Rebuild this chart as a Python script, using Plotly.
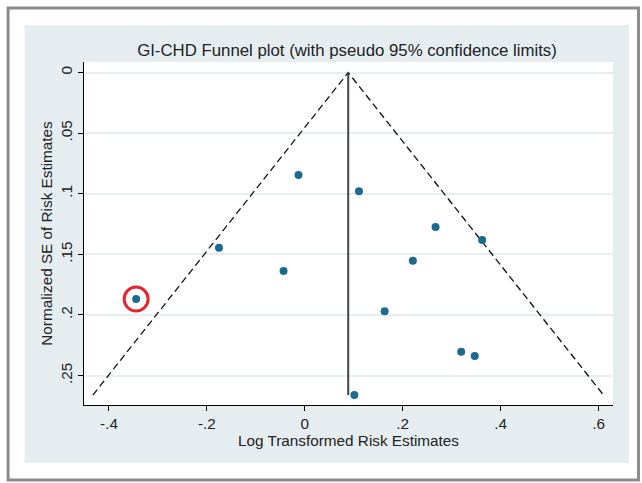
import plotly.graph_objects as go

# ---- data ----
log_rr = [-0.0128, 0.1107, -0.1753, -0.0434, -0.3445, 0.2671, 0.3623,
          0.2208, 0.1631, 0.3195, 0.3472, 0.1013]
se = [0.0846, 0.0980, 0.1446, 0.1638, 0.1869, 0.1275, 0.1382,
      0.1553, 0.1970, 0.2304, 0.2339, 0.2661]
pooled = 0.0887
highlight_index = 4

x_ticks = [-0.4, -0.2, 0, 0.2, 0.4, 0.6]
x_tick_labels = ["-.4", "-.2", "0", ".2", ".4", ".6"]
y_ticks = [0, 0.05, 0.1, 0.15, 0.2, 0.25]
y_tick_labels = ["0", ".05", ".1", ".15", ".2", ".25"]

title = "GI-CHD Funnel plot (with pseudo 95% confidence limits)"
x_title = "Log Transformed Risk Estimates"
y_title = "Normalized SE of Risk Estimates"

# ---- layout geometry ----
W, H = 642, 483
L, R, T, B = 83.5, 613, 62, 405
x_range = [-0.451, 0.6296]
y_range = [0.2743, -0.0087]


def px(x):
    return (x - L) / (R - L)


def py(y):
    return (B - y) / (B - T)


se_max = max(se)
z = 1.96

fig = go.Figure()

# funnel limits
fig.add_trace(go.Scatter(
    x=[pooled - z * se_max, pooled, pooled + z * se_max],
    y=[se_max, 0, se_max],
    mode="lines", line=dict(color="#111111", width=1.3, dash="7px,4px"),
    hoverinfo="skip", showlegend=False))
# pooled estimate line
fig.add_trace(go.Scatter(
    x=[pooled, pooled], y=[0, se_max],
    mode="lines", line=dict(color="#444444", width=2),
    hoverinfo="skip", showlegend=False))
# studies
fig.add_trace(go.Scatter(
    x=log_rr, y=se, mode="markers",
    marker=dict(color="#1b6a8f", size=8),
    showlegend=False))

# highlight circle around one study
rpx = 12.0
xr = rpx * (x_range[1] - x_range[0]) / (R - L)
yr = rpx * (y_range[0] - y_range[1]) / (B - T)
hx, hy = log_rr[highlight_index], se[highlight_index]

shapes = [
    dict(type="rect", xref="paper", yref="paper",
         x0=px(24), x1=px(629), y0=py(463), y1=py(25),
         fillcolor="#e5edf1", line=dict(width=0), layer="below"),
    dict(type="rect", xref="paper", yref="paper",
         x0=0, x1=1, y0=0, y1=1,
         fillcolor="white", line=dict(width=0), layer="below"),
    dict(type="rect", xref="paper", yref="paper",
         x0=px(7.5), x1=px(638.5), y0=py(480), y1=py(8),
         fillcolor="rgba(0,0,0,0)", line=dict(color="#8c8c8c", width=3),
         layer="above"),
    dict(type="circle", xref="x", yref="y",
         x0=hx - xr, x1=hx + xr, y0=hy - yr, y1=hy + yr,
         line=dict(color="#e3262b", width=3), layer="above"),
]

font = "Liberation Sans, Arial, sans-serif"
fs = 15.3
fig.update_layout(
    width=W, height=H,
    margin=dict(l=L, r=W - R, t=T, b=H - B, pad=0),
    paper_bgcolor="white", plot_bgcolor="white",
    font=dict(family=font, color="#222222", size=fs),
    title=dict(text=title, xref="container", x=347 / W, xanchor="center",
               yref="container", y=1 - 50 / H, yanchor="middle",
               font=dict(size=16.8, color="#222222")),
    shapes=shapes,
    xaxis=dict(range=x_range, tickvals=x_ticks, ticktext=x_tick_labels,
               showgrid=False, zeroline=False,
               showline=True, linecolor="black", linewidth=1,
               ticks="outside", ticklen=5, tickcolor="black",
               tickfont=dict(size=fs),
               title=dict(text=x_title, standoff=0, font=dict(size=fs))),
    yaxis=dict(range=y_range, tickvals=y_ticks, ticktext=y_tick_labels,
               showgrid=True, gridcolor="#e6eef2", gridwidth=1.5,
               zeroline=False,
               showline=True, linecolor="black", linewidth=1,
               ticks="outside", ticklen=5, tickcolor="black",
               tickangle=-90, tickfont=dict(size=fs),
               title=dict(text=y_title, standoff=1, font=dict(size=fs))),
)

fig.write_html("out.html",
               config={"displayModeBar": False},
               post_script="document.body.style.margin='0';"
                           "document.body.style.padding='0';")
